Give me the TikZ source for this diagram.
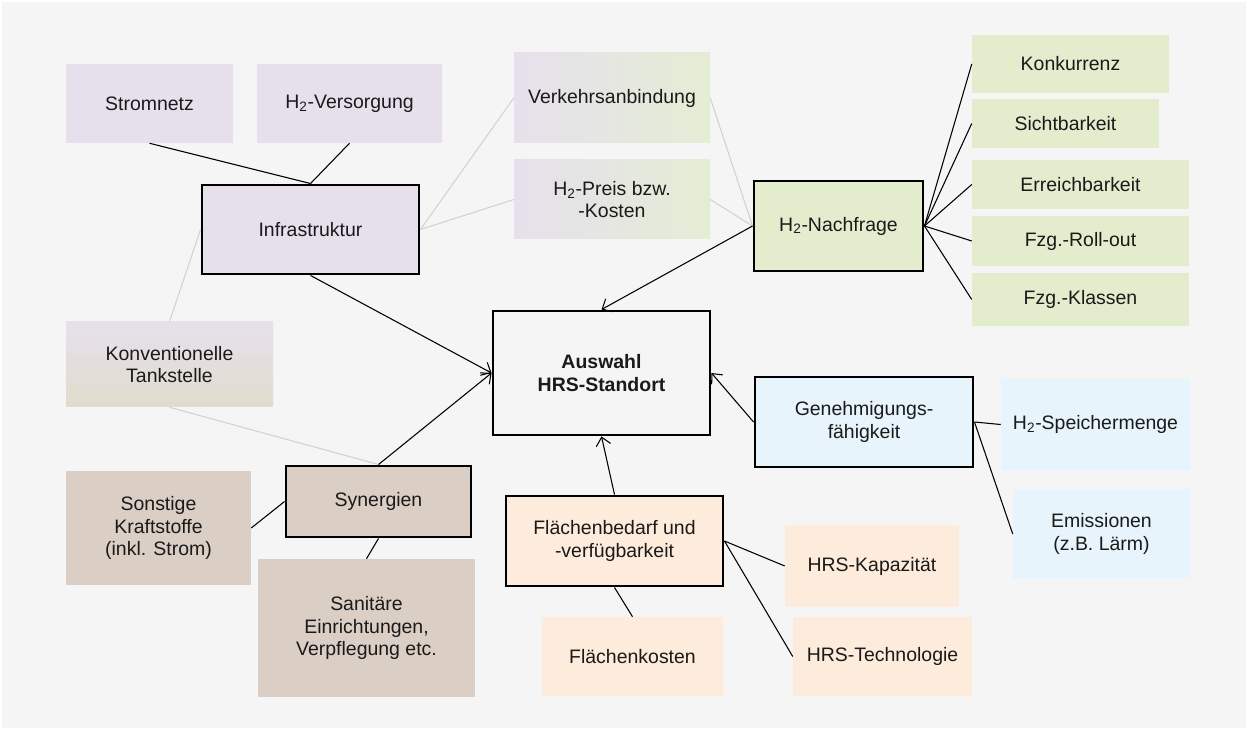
\documentclass[tikz,border=0pt]{standalone}
\usepackage{fontspec}
\setmainfont{Liberation Sans}
\usetikzlibrary{arrows.meta}

\definecolor{bgcol}{HTML}{F5F5F5}
\definecolor{inkcol}{HTML}{1A1A1A}
\definecolor{lavcol}{HTML}{E6E0EC}
\definecolor{greencol}{HTML}{E3EDCE}
\definecolor{greenlt}{HTML}{E4EDD4}
\definecolor{beigecol}{HTML}{E0DCCB}
\definecolor{taupecol}{HTML}{DBCEC5}
\definecolor{bluecol}{HTML}{E7F4FC}
\definecolor{peachcol}{HTML}{FDEBDB}
\definecolor{greyline}{HTML}{D2D2D2}

\newcommand{\Hzwei}{H\textsubscript{2}}

\tikzset{
  every node/.style={font=\fontsize{14.6}{17}\selectfont, text=inkcol, align=center, inner sep=0pt},
  rect/.style 2 args={rectangle, minimum width=#1*0.75pt, minimum height=#2*0.75pt},
  plainbox/.style={draw=none},
  mainbox/.style={draw=black, line width=2.2pt},
  link/.style={draw=black, line width=0.8pt},
  softlink/.style={draw=greyline, line width=0.8pt},
  arrowlink/.style={draw=black, line width=0.8pt, -{Straight Barb[length=6pt,width=11pt,line width=0.8pt]}},
}

\begin{document}
\begin{tikzpicture}[x=0.75pt, y=-0.75pt]
  \useasboundingbox (0,0) rectangle (1248,730);
  \fill[white] (0,0) rectangle (1248,730);
  \fill[bgcol] (2,2) rectangle (1246,728);

  % Infrastruktur cluster
  \node[plainbox, rect={167}{79}, fill=lavcol] (strom) at (149.5,103.5) {Stromnetz};
  \node[plainbox, rect={185}{79}, fill=lavcol] (versorg) at (349.5,103.5) {\Hzwei-Versorgung};
  \node[mainbox, rect={217}{89}, fill=lavcol] (infra) at (310.5,229.5) {Infrastruktur};

  % shared factors (gradient boxes)
  \node[plainbox, rect={196}{90}, left color=lavcol, right color=greenlt] (verkehr) at (612,98) {Verkehrsanbindung};
  \node[plainbox, rect={196}{79}, left color=lavcol, right color=greenlt] (preis) at (612,199.5) {\Hzwei-Preis bzw.\\-Kosten};
  \node[plainbox, rect={207}{85}, top color=lavcol, bottom color=beigecol] (konv) at (169.5,364.5) {Konventionelle\\Tankstelle};

  % Nachfrage cluster
  \node[mainbox, rect={169}{90}, fill=greencol] (nachfrage) at (838.5,226) {\Hzwei-Nachfrage};
  \node[plainbox, rect={197}{58}, fill=greencol] (konk) at (1070.5,64) {Konkurrenz};
  \node[plainbox, rect={187}{49}, fill=greencol] (sicht) at (1065.5,123.5) {Sichtbarkeit};
  \node[plainbox, rect={217}{49}, fill=greencol] (erreich) at (1080.5,184.5) {Erreichbarkeit};
  \node[plainbox, rect={217}{50}, fill=greencol] (rollout) at (1080.5,241) {Fzg.-Roll-out};
  \node[plainbox, rect={217}{53}, fill=greencol] (klassen) at (1080.5,299.5) {Fzg.-Klassen};

  % central decision
  \node[mainbox, rect={217}{124}, fill=bgcol, font=\fontsize{14.6}{17}\selectfont\bfseries] (auswahl) at (601.5,373) {Auswahl\\HRS-Standort};

  % Genehmigung cluster
  \node[mainbox, rect={218}{90}, fill=bluecol] (genehm) at (864,422) {Genehmigungs-\\fähigkeit};
  \node[plainbox, rect={189}{91}, fill=bluecol] (speicher) at (1095.5,424.5) {\Hzwei-Speichermenge};
  \node[plainbox, rect={177}{90}, fill=bluecol] (emiss) at (1101.5,534) {Emissionen\\(z.B. Lärm)};

  % Flaechen cluster
  \node[mainbox, rect={217}{90}, fill=peachcol] (flaeche) at (614.5,541) {Flächenbedarf und\\-verfügbarkeit};
  \node[plainbox, rect={174}{82}, fill=peachcol] (kapaz) at (872,566) {HRS-Kapazität};
  \node[plainbox, rect={179}{79}, fill=peachcol] (techno) at (882.5,656.5) {HRS-Technologie};
  \node[plainbox, rect={181}{79}, fill=peachcol] (fkosten) at (632.5,656.5) {Flächenkosten};

  % Synergien cluster
  \node[mainbox, rect={185}{71}, fill=taupecol] (syn) at (378.5,501.5) {Synergien};
  \node[plainbox, rect={185}{114}, fill=taupecol] (sonst) at (158.5,528) {Sonstige\\Kraftstoffe\\(inkl. Strom)};
  \node[plainbox, rect={217}{138}, fill=taupecol] (sanit) at (366.5,628) {Sanitäre\\Einrichtungen,\\Verpflegung etc.};

  % soft links between clusters
  \draw[softlink] (infra.west) -- (konv.north);
  \draw[softlink] (konv.south) -- (syn.north);
  \draw[softlink] (infra.east) -- (verkehr.west);
  \draw[softlink] (infra.east) -- (preis.west);
  \draw[softlink] (verkehr.east) -- (nachfrage.west);
  \draw[softlink] (preis.east) -- (nachfrage.west);

  % sub-factor links
  \draw[link] (strom.south) -- (infra.north);
  \draw[link] (versorg.south) -- (infra.north);
  \foreach \n in {konk,sicht,erreich,rollout,klassen}
    \draw[link] (nachfrage.east) -- (\n.west);
  \draw[link] (genehm.east) -- (speicher.west);
  \draw[link] (genehm.east) -- (emiss.west);
  \draw[link] (flaeche.east) -- (kapaz.west);
  \draw[link] (flaeche.east) -- (techno.west);
  \draw[link] (flaeche.south) -- (fkosten.north);
  \draw[link] (syn.west) -- (sonst.east);
  \draw[link] (syn.south) -- (sanit.north);

  % main factors into the decision
  \draw[arrowlink] (infra.south) -- (auswahl.west);
  \draw[arrowlink] (syn.north) -- (auswahl.west);
  \draw[arrowlink] (nachfrage.west) -- (auswahl.north);
  \draw[arrowlink] (genehm.west) -- (auswahl.east);
  \draw[arrowlink] (flaeche.north) -- (auswahl.south);
\end{tikzpicture}
\end{document}
